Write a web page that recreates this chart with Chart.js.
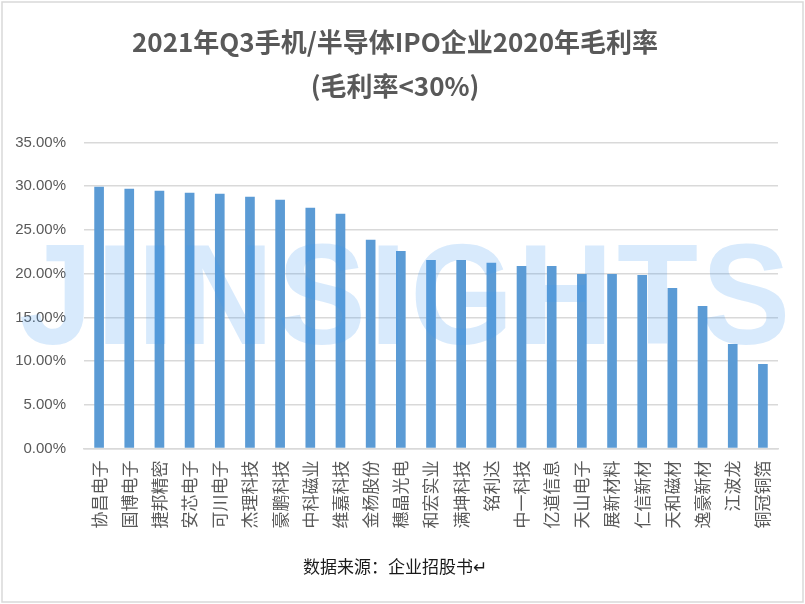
<!DOCTYPE html>
<html>
<head>
<meta charset="utf-8">
<script src="https://cdn.jsdelivr.net/npm/chart.js@4"></script>
<style>
  html, body { margin: 0; padding: 0; background: #fff; }
  #wrap { width: 805px; height: 604px; position: relative; }
</style>
</head>
<body>
<div id="wrap"><canvas id="marginChart"></canvas></div>
<script>
// companies and 2020 gross margin (%)
const companies = ['协昌电子', '国博电子', '捷邦精密', '安芯电子', '可川电子', '杰理科技', '豪鹏科技', '中科磁业',
  '维嘉科技', '金杨股份', '穗晶光电', '和宏实业', '满坤科技', '铭利达', '中一科技', '亿道信息', '天山电子',
  '展新材料', '仁信新材', '天和磁材', '逸豪新材', '江波龙', '铜冠铜箔'];
const grossMargin = [29.93, 29.70, 29.47, 29.24, 29.13, 28.79, 28.44, 27.53,
  26.84, 23.86, 22.60, 21.57, 21.57, 21.23, 20.88, 20.88, 19.96,
  19.96, 19.85, 18.36, 16.30, 11.95, 9.66];
const titleLines = ['2021年Q3手机/半导体IPO企业2020年毛利率', '(毛利率<30%)'];
const sourceNote = '数据来源：企业招股书↵';

const cjk = '"Noto Sans CJK SC", "Noto Sans", sans-serif';

// outer frame + watermark
const decor = {
  id: 'decor',
  beforeDraw(chart) {
    const c = chart.ctx;
    c.save();
    c.fillStyle = '#fff';
    c.fillRect(0, 0, chart.width, chart.height);
    c.strokeStyle = '#d9d9d9';
    c.lineWidth = 1.5;
    c.strokeRect(2, 2, chart.width - 4, chart.height - 4);
    c.restore();
  },
  afterDatasetsDraw(chart) {
    const c = chart.ctx;
    c.save();
    c.fillStyle = 'rgba(60, 150, 240, 0.2)';
    c.font = 'bold 142px "Liberation Sans", sans-serif';
    c.textBaseline = 'alphabetic';
    c.textAlign = 'center';
    if ('letterSpacing' in c) c.letterSpacing = '4px';
    c.fillText('JIINSIGHTS', chart.width / 2 + 4, 344, 775);
    c.restore();
  }
};

new Chart(document.getElementById('marginChart'), {
  type: 'bar',
  data: {
    labels: companies,
    datasets: [{
      data: grossMargin,
      backgroundColor: '#5b9bd5',
      barPercentage: 0.32,
      categoryPercentage: 1
    }]
  },
  options: {
    responsive: true,
    maintainAspectRatio: false,
    animation: false,
    layout: { padding: { left: 12, right: 27, top: 16, bottom: 6 } },
    scales: {
      x: {
        grid: { display: false },
        border: { color: '#d9d9d9', width: 1.5 },
        ticks: {
          color: '#595959',
          font: { family: cjk, size: 17 },
          maxRotation: 90, minRotation: 90,
          autoSkip: false,
          padding: 4
        }
      },
      y: {
        min: 0, max: 35,
        grid: { color: '#d9d9d9', lineWidth: 1.5, drawTicks: false },
        border: { display: false },
        afterFit(scale) { scale.width = 72; },
        ticks: {
          stepSize: 5,
          color: '#595959',
          font: { family: '"Liberation Sans", sans-serif', size: 15 },
          padding: 18,
          callback: v => v.toFixed(2) + '%'
        }
      }
    },
    plugins: {
      legend: { display: false },
      tooltip: { enabled: false },
      title: {
        display: true,
        text: titleLines,
        color: '#595959',
        font: { family: cjk, size: 26, weight: 'bold', lineHeight: 1.7 },
        padding: { top: 4, bottom: 34 }
      },
      subtitle: {
        display: true,
        position: 'bottom',
        text: sourceNote,
        color: '#1a1a1a',
        font: { family: cjk, size: 17 },
        padding: { top: 24, bottom: 21 }
      }
    }
  },
  plugins: [decor]
});
</script>
</body>
</html>
